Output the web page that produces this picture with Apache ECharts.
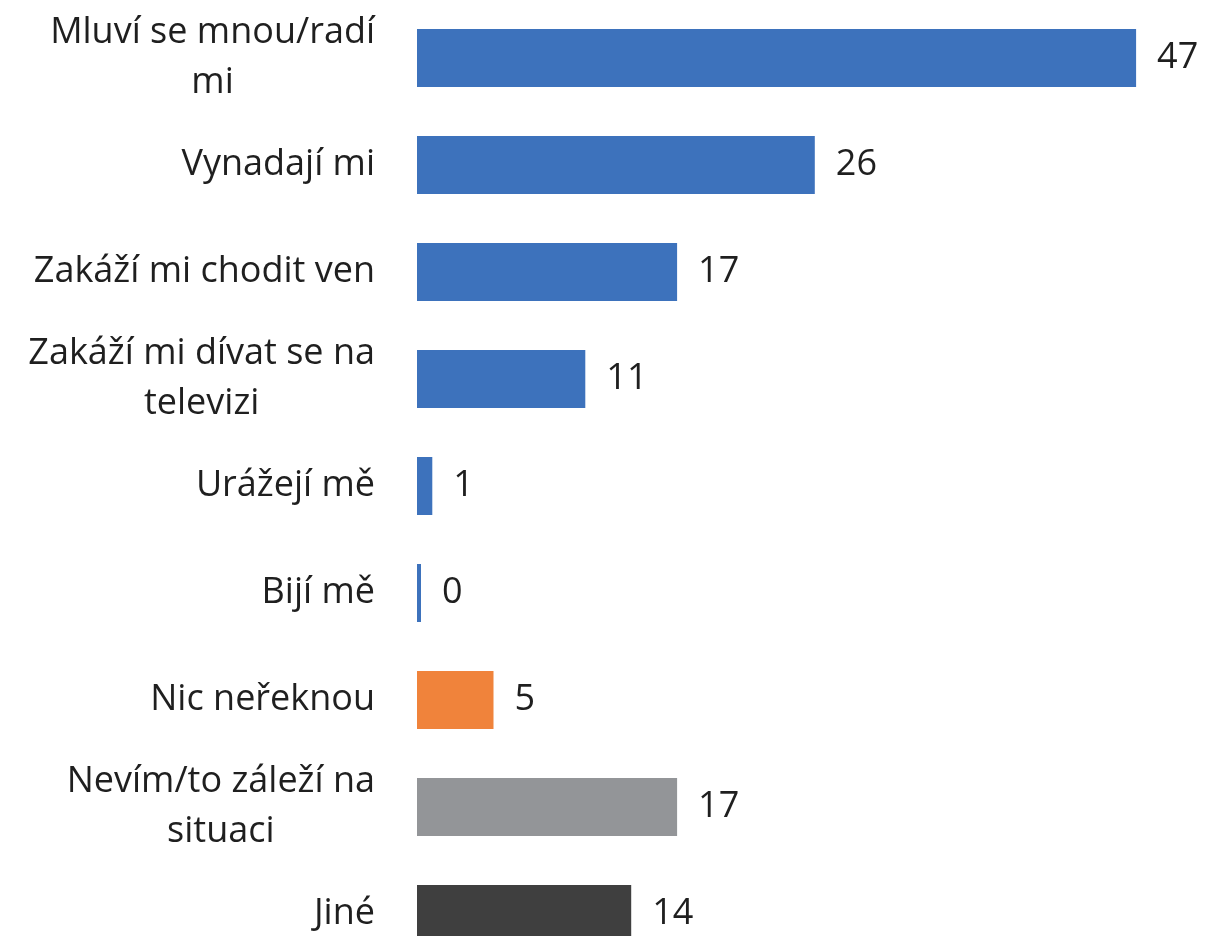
<!DOCTYPE html>
<html>
<head>
<meta charset="utf-8">
<title>Reakce rodičů</title>
<script src="https://cdn.jsdelivr.net/npm/echarts@6/dist/echarts.min.js"></script>
<style>
  html, body { margin: 0; padding: 0; background: #ffffff; overflow: hidden; }
  /* the last row runs past the bottom edge of the window */
  #chart { width: 1211px; height: 1000px; }
</style>
</head>
<body>
<div id="chart"></div>
<script>
// Answer categories, top to bottom (each array item is one line of the label)
const categories = [
  ['Mluví se mnou/radí', 'mi'],
  ['Vynadají mi'],
  ['Zakáží mi chodit ven'],
  ['Zakáží mi dívat se na', 'televizi'],
  ['Urážejí mě'],
  ['Bijí mě'],
  ['Nic neřeknou'],
  ['Nevím/to záleží na', 'situaci'],
  ['Jiné']
];

// Share of answers (%)
const values = [47, 26, 17, 11, 1, 0, 5, 17, 14];

// Answer group of each category: reaction / none / unsure / other
const groups = ['reaction', 'reaction', 'reaction', 'reaction', 'reaction', 'reaction', 'none', 'unsure', 'other'];

const groupColors = {
  reaction: '#3D72BC',
  none: '#F0833B',
  unsure: '#939598',
  other: '#3F3F3F'
};

const FONT = '"Open Sans"';
const FONT_SIZE = 36;
const TEXT_COLOR = '#1f1f1f';

const chart = echarts.init(document.getElementById('chart'), null, { renderer: 'canvas' });

const option = {
  animation: false,
  backgroundColor: '#ffffff',
  grid: {
    left: 417,
    right: 29,
    top: 4.5,
    height: 963,
    containLabel: false
  },
  xAxis: {
    type: 'value',
    min: 0,
    max: 50,
    show: false
  },
  yAxis: {
    type: 'category',
    inverse: true,
    data: categories.map(lines => lines.join('\n')),
    axisLine: { show: false },
    axisTick: { show: false },
    splitLine: { show: false },
    axisLabel: {
      margin: 42,
      align: 'right',
      fontFamily: FONT,
      fontSize: FONT_SIZE,
      color: TEXT_COLOR,
      lineHeight: 50,
      formatter: function (value) {
        return value.split('\n').map(line => '{c|' + line + '}').join('\n');
      },
      rich: {
        c: {
          align: 'center',
          fontFamily: FONT,
          fontSize: FONT_SIZE,
          color: TEXT_COLOR,
          lineHeight: 50
        }
      }
    }
  },
  series: [{
    type: 'bar',
    barWidth: 58,
    barMinHeight: 4,
    data: values.map((v, i) => ({
      value: v,
      itemStyle: { color: groupColors[groups[i]] }
    })),
    label: {
      show: true,
      position: 'right',
      distance: 21,
      fontFamily: FONT,
      fontSize: FONT_SIZE,
      color: TEXT_COLOR
    }
  }]
};

chart.setOption(option);
</script>
</body>
</html>
